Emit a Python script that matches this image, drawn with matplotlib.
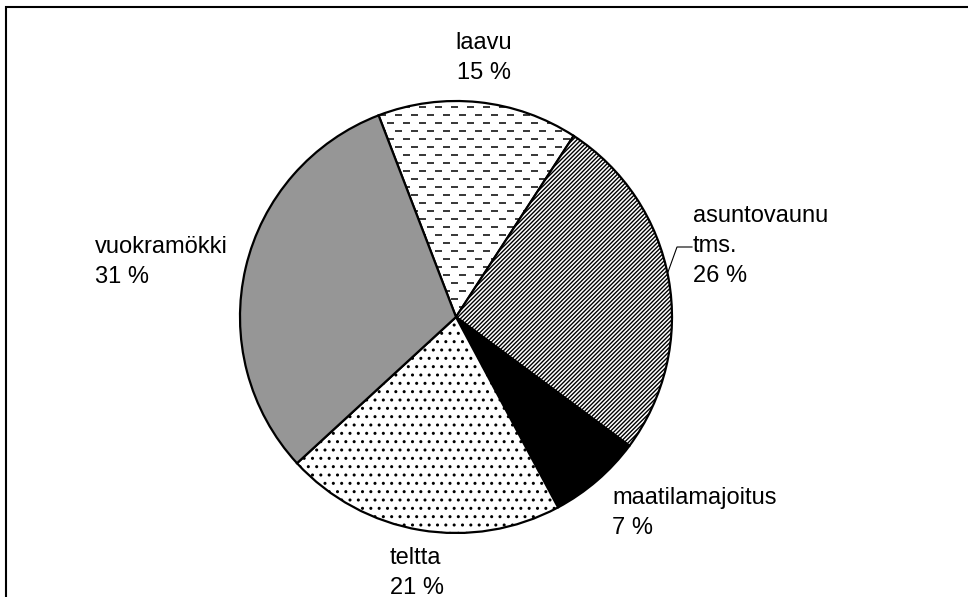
import numpy as np
import matplotlib
matplotlib.use('Agg')
import matplotlib.pyplot as plt
from matplotlib.patches import Rectangle

plt.rcParams['font.family'] = ['Liberation Sans', 'DejaVu Sans']
plt.rcParams['lines.scale_dashes'] = False
plt.rcParams['hatch.linewidth'] = 1.0

# accommodation types and shares (%)
names = ['laavu', 'asuntovaunu\ntms.', 'maatilamajoitus', 'teltta', 'vuokramökki']
shares = [15, 26, 7, 21, 31]
faces = ['white', 'white', 'black', 'white', '#969696']
hatches = [None, '////////', None, '..', None]

# label anchor (pixel coords, image y from top) and alignment
label_pos = [(484, 58, 'center'), (693, 246, 'left'), (612, 513, 'left'),
             (390, 573, 'left'), (95, 262, 'left')]

W, H = 968, 597
fig = plt.figure(figsize=(W / 100, H / 100), dpi=100)
ax = fig.add_axes([0, 0, 1, 1])

cx, cy, r = 456, H - 317, 216
wedges, _ = ax.pie(shares, startangle=111, counterclock=False,
                   center=(cx, cy), radius=r, colors=faces,
                   wedgeprops=dict(edgecolor='black', linewidth=1.6))
for w, h in zip(wedges, hatches):
    if h:
        w.set_hatch(h)

# dashed horizontal texture for the laavu slice
for i in range(-3, 29):
    y = H - (115.3 + 8 * i)
    x0 = 234.7 if i % 2 == 0 else 226.7
    ln, = ax.plot([x0, 700], [y, y], color='black', lw=1.1,
                  dashes=(7 * 0.72, 9 * 0.72), solid_capstyle='butt',
                  dash_capstyle='butt')
    ln.set_clip_path(wedges[0])

for name, v, (x, y, ha) in zip(names, shares, label_pos):
    ax.text(x, H - y, f'{name}\n{v} %', ha=ha, va='center', fontsize=17,
            linespacing=1.47, color='black')

# leader line for asuntovaunu
ax.plot([668, 677, 692], [H - 272, H - 247, H - 247], color='black', lw=0.8)

# outer frame (cut off at right and bottom)
ax.add_patch(Rectangle((6, -20), 1100, H - 7 + 20, fill=False,
                       edgecolor='black', lw=1.5, clip_on=False))

ax.set_xlim(0, W)
ax.set_ylim(0, H)
ax.set_aspect('auto')
ax.axis('off')

fig.savefig('out.png', dpi=100)
